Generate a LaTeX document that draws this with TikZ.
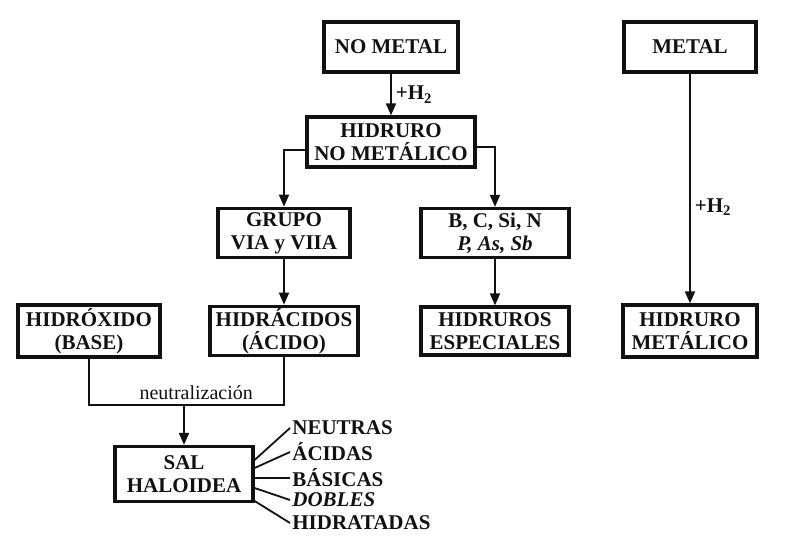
\documentclass[tikz,border=0pt]{standalone}
\usepackage{fontspec}
\setmainfont{Liberation Serif}
\usetikzlibrary{arrows.meta,positioning,calc}
\definecolor{ink}{HTML}{111111}
\tikzset{
  >={Triangle[width=5pt,length=6pt]},
  every node/.style={text=ink},
  box/.style={draw=ink,line width=1.6pt,fill=white,align=center,inner xsep=2pt,inner ysep=1pt,font=\fontsize{10.5}{11.5}\selectfont\bfseries},
  arrow/.style={->,line width=0.9pt,draw=ink},
  wire/.style={line width=0.9pt,draw=ink},
  label/.style={font=\fontsize{10.5}{12}\selectfont\bfseries,inner sep=2pt},
  kind/.style={anchor=west,inner sep=1pt,font=\fontsize{10.5}{12}\selectfont\bfseries},
}

\begin{document}
\begin{tikzpicture}[x=0.5pt,y=-0.5pt]
\useasboundingbox (0,0) rectangle (799,556);

\node[box,minimum width=67pt,minimum height=25pt] (nometal) at (391,47) {NO METAL};
\node[box,minimum width=84pt,minimum height=25pt] (hnm) at (391,142) {HIDRURO\\NO METÁLICO};
\node[box,minimum width=66pt,minimum height=24.5pt,inner ysep=2pt] (grupo) at (284,233) {GRUPO\\VIA y VIIA};
\node[box,minimum width=74pt,minimum height=24.5pt,inner ysep=2pt] (bcsi) at (495,233) {B, C, Si, N\\\textit{P, As, Sb}};
\node[box,minimum width=74pt,minimum height=24pt] (hidracidos) at (284,331) {HIDRÁCIDOS\\(ÁCIDO)};
\node[box,minimum width=74pt,minimum height=24pt] (hesp) at (495,331) {HIDRUROS\\ESPECIALES};
\node[box,minimum width=71pt,minimum height=26pt] (hidroxido) at (89,331) {HIDRÓXIDO\\(BASE)};
\node[box,minimum width=69pt,minimum height=27.5pt] (sal) at (184,474) {SAL\\HALOIDEA};
\node[box,minimum width=66pt,minimum height=25pt] (metal) at (690,47) {METAL};
\node[box,minimum width=67pt,minimum height=26pt] (hmet) at (690,331) {HIDRURO\\METÁLICO};

\node[kind] (neutras) at (290,428) {NEUTRAS};
\node[kind] (acidas) at (290,452) {ÁCIDAS};
\node[kind] (basicas) at (290,478) {BÁSICAS};
\node[kind] (dobles) at (290,500) {\textit{DOBLES}};
\node[kind] (hidratadas) at (290,523) {HIDRATADAS};

\draw[arrow] (nometal) -- node[label,right] {+H\textsubscript{2}} (hnm);
\draw[arrow] ($(hnm.west)+(0,8)$) -| (grupo.north);
\draw[arrow] ($(hnm.east)+(0,5)$) -| (bcsi.north);
\draw[arrow] (grupo) -- (hidracidos);
\draw[arrow] (bcsi) -- (hesp);
\draw[arrow] (metal) -- node[label,right,pos=0.58] {+H\textsubscript{2}} (hmet);

\coordinate (nl) at (hidroxido.south |- 0,405);
\coordinate (nr) at (hidracidos.south |- 0,405);
\coordinate (nm) at (sal.north |- nl);
\draw[wire] (hidroxido.south) -- (nl) -- node[above,pos=0.55,font=\fontsize{10}{12}\selectfont,inner sep=2pt] {neutralización} (nr) -- (hidracidos.south);
\draw[arrow] (nm) -- (sal.north);

\draw[wire] ([yshift=7pt]sal.east) -- (neutras.west);
\draw[wire] ([yshift=3pt]sal.east) -- (acidas.west);
\draw[wire] ([yshift=-2pt]sal.east) -- (basicas.west);
\draw[wire] ([yshift=-7pt]sal.east) -- (dobles.west);
\draw[wire] ([yshift=-13.5pt]sal.east) -- (hidratadas.west);

\end{tikzpicture}
\end{document}
